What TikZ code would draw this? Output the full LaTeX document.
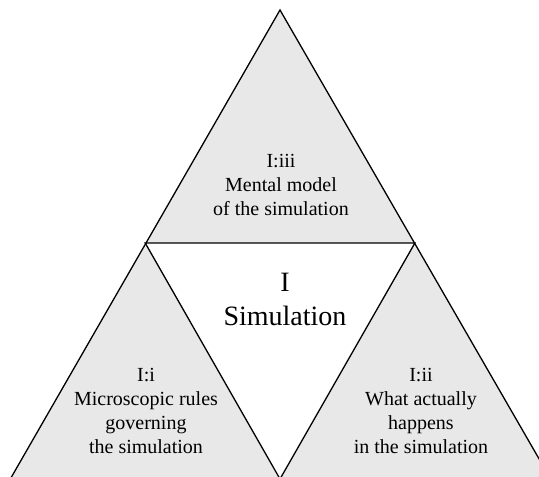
\documentclass[tikz,border=0pt]{standalone}
\usepackage{fontspec}
\setmainfont{Liberation Serif}
\tikzset{
  part/.style={fill=black!9, draw=black, line width=1.3pt, line join=miter},
  hole/.style={fill=white, draw=black, line width=1.3pt, line join=miter},
  label/.style={align=center, inner sep=0pt, font=\fontsize{20}{24}\selectfont},
  title/.style={align=center, inner sep=0pt, font=\fontsize{28}{34}\selectfont}
}
\begin{document}
\begin{tikzpicture}[x=1pt,y=-1pt]
  \clip (0,0) rectangle (539,477);
  % corners of the large triangle and the midpoints of its sides
  \coordinate (apex) at (280,10);
  \coordinate (bl) at (10.3,479);
  \coordinate (br) at (550.7,479);
  \coordinate (ml) at (145.2,243);
  \coordinate (mr) at (414.9,243);
  \coordinate (mb) at (280,479);
  \draw[part] (apex) -- (bl) -- (br) -- cycle;
  \draw[hole] (ml) -- (mr) -- (mb) -- cycle;
  % texts, placed by the baseline of their last line
  \node[label, anchor=base] (top) at (281,215) {I:iii\\Mental model\\of the simulation};
  \node[title, anchor=base] (mid) at (285,325) {I\\Simulation};
  \node[label, anchor=base] (left) at (146,453) {I:i\\Microscopic rules\\governing\\the simulation};
  \node[label, anchor=base] (right) at (421,453) {I:ii\\What actually\\happens\\in the simulation};
\end{tikzpicture}
\end{document}
